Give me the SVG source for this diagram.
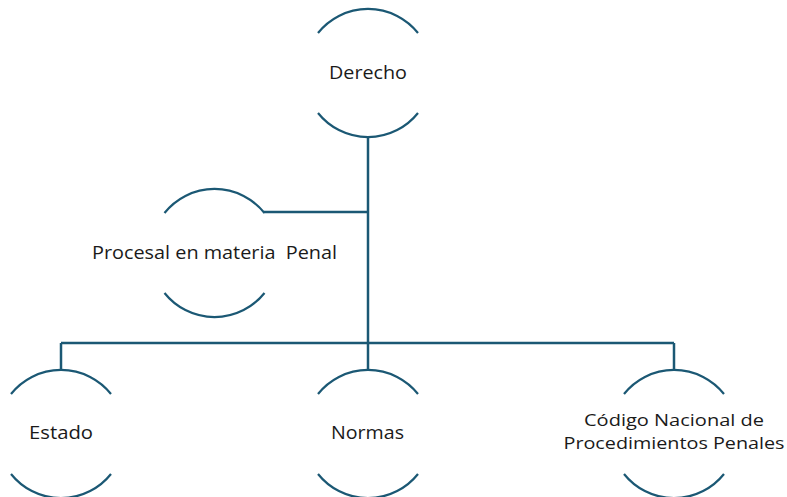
<svg xmlns="http://www.w3.org/2000/svg" width="787" height="497" viewBox="0 0 787 497">
<defs>
<style>
.arc{fill:none;stroke:#1b5874;stroke-width:2.2}
.conn{fill:none;stroke:#1b5874;stroke-width:2.5}
text{font-family:"Open Sans","Liberation Sans",sans-serif;font-size:17.5px;fill:#1a1a1a;text-anchor:middle}
.two{font-size:17px}
</style>
<g id="arcs">
<path class="arc" d="M-50,-40 A64,64 0 0 1 50,-40"/>
<path class="arc" d="M-50,40 A64,64 0 0 0 50,40"/>
</g>
</defs>
<rect width="787" height="497" fill="#ffffff"/>
<g id="connectors">
<path class="conn" d="M368,137 V343"/>
<path class="conn" d="M264,212 H368"/>
<path class="conn" d="M61,343 H674"/>
<path class="conn" d="M61,343 V370"/>
<path class="conn" d="M368,343 V370"/>
<path class="conn" d="M674,343 V370"/>
</g>
<g id="derecho">
<use href="#arcs" transform="translate(368,73)"/>
<text x="368" y="79" textLength="78" lengthAdjust="spacingAndGlyphs">Derecho</text>
</g>
<g id="procesal">
<use href="#arcs" transform="translate(214.5,253)"/>
<text x="214.5" y="259" textLength="245" lengthAdjust="spacingAndGlyphs" xml:space="preserve">Procesal en materia  Penal</text>
</g>
<g id="estado">
<use href="#arcs" transform="translate(61,434)"/>
<text x="61" y="439" textLength="64" lengthAdjust="spacingAndGlyphs">Estado</text>
</g>
<g id="normas">
<use href="#arcs" transform="translate(368,434)"/>
<text x="367.5" y="439" textLength="73" lengthAdjust="spacingAndGlyphs">Normas</text>
</g>
<g id="codigo">
<use href="#arcs" transform="translate(674,434)"/>
<text class="two" x="674" y="426" textLength="180" lengthAdjust="spacingAndGlyphs">Código Nacional de</text>
<text class="two" x="674" y="449" textLength="221" lengthAdjust="spacingAndGlyphs">Procedimientos Penales</text>
</g>
</svg>
